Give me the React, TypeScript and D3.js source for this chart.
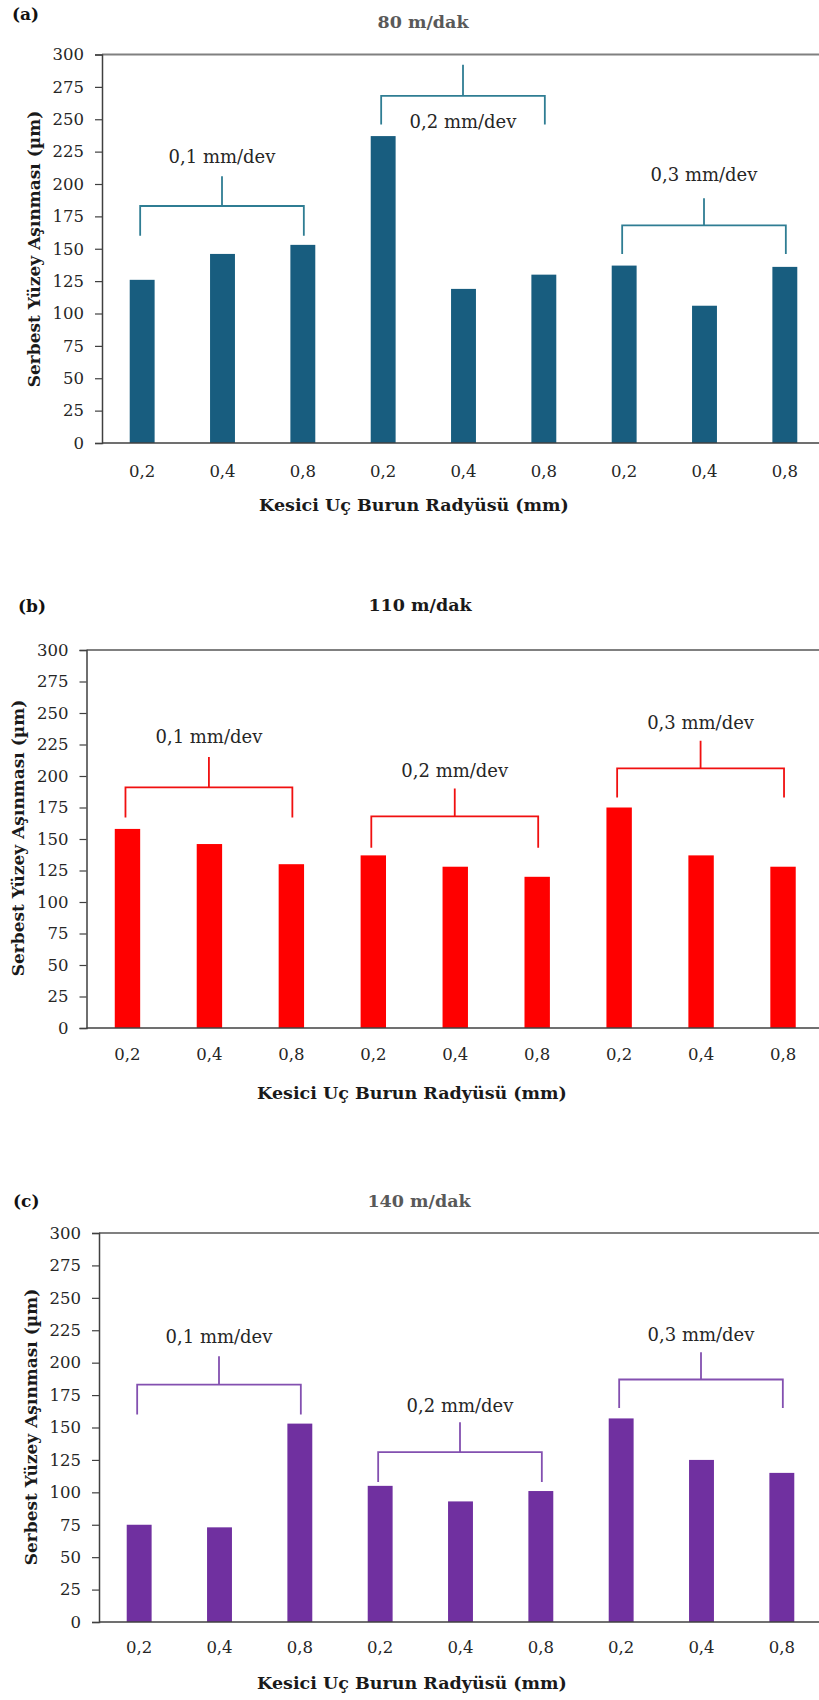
import { useEffect, useRef } from "react";
import * as d3 from "d3";

// nose radius categories (three feed groups of three)
const radiusLabels = ["0,2", "0,4", "0,8", "0,2", "0,4", "0,8", "0,2", "0,4", "0,8"];
const feedLabels = ["0,1 mm/dev", "0,2 mm/dev", "0,3 mm/dev"];
const yTicks = [0, 25, 50, 75, 100, 125, 150, 175, 200, 225, 250, 275, 300];

// flank wear values (µm) per cutting speed
const wear80 = [126, 146, 153, 237, 119, 130, 137, 106, 136];
const wear110 = [158, 146, 130, 137, 128, 120, 175, 137, 128];
const wear140 = [75, 73, 153, 105, 93, 101, 157, 125, 115];

// bracket levels in data units: [bar, leg end, stem top, label baseline]
const brackets80 = [
  [183, 160, 206, 216],
  [268, 246, 292, 243],
  [168, 146, 189, 202],
];
const brackets110 = [
  [191, 167, 215, 226],
  [168, 143, 190, 199],
  [206, 183, 228, 237],
];
const brackets140 = [
  [183, 160, 205, 215],
  [131, 108, 154, 162],
  [187, 165, 208, 217],
];

const FONT = "'DejaVu Serif', serif";

const panels = [
  {
    tag: "(a)", title: "80 m/dak", titleColor: "#595959",
    values: wear80, brackets: brackets80,
    barColor: "#185d7f", bracketColor: "#2f7d93",
    left: 102, top: 54.5, bottom: 443, right: 825,
    tagX: 12, tagY: 20, titleX: 423, titleY: 28,
    tickY: 477, xTitleX: 414, xTitleY: 511, yTitleX: 34, yTitleY: 249,
  },
  {
    tag: "(b)", title: "110 m/dak", titleColor: "#1a1a1a",
    values: wear110, brackets: brackets110,
    barColor: "#ff0000", bracketColor: "#f01010",
    left: 86.5, top: 650, bottom: 1028, right: 824,
    tagX: 18, tagY: 612, titleX: 420, titleY: 611,
    tickY: 1060, xTitleX: 412, xTitleY: 1099, yTitleX: 18, yTitleY: 838,
  },
  {
    tag: "(c)", title: "140 m/dak", titleColor: "#595959",
    values: wear140, brackets: brackets140,
    barColor: "#7030a0", bracketColor: "#8350b0",
    left: 99, top: 1233, bottom: 1622, right: 822,
    tagX: 13, tagY: 1207, titleX: 419, titleY: 1207,
    tickY: 1653, xTitleX: 412, xTitleY: 1689, yTitleX: 31, yTitleY: 1427,
  },
];

const App = () => {
  const svgRef = useRef(null);

  useEffect(() => {
    const svgEl = d3.select(svgRef.current);
    svgEl.selectAll("*").remove();

    panels.forEach((p) => {
      const g = svgEl.append("g");
      const idx = radiusLabels.map((_, i) => i);
      const x = d3
        .scaleBand()
        .domain(idx)
        .range([p.left, p.right])
        .paddingInner(0.69)
        .paddingOuter(0.345);
      const y = d3.scaleLinear().domain([0, 300]).range([p.bottom, p.top]);

      // top border
      g.append("line")
        .attr("x1", p.left).attr("x2", 819)
        .attr("y1", y(300)).attr("y2", y(300))
        .attr("stroke", "#808080").attr("stroke-width", 2);

      // bars
      g.selectAll(".bar")
        .data(p.values)
        .enter()
        .append("rect")
        .attr("x", (d, i) => x(i))
        .attr("y", (d) => y(d))
        .attr("width", x.bandwidth())
        .attr("height", (d) => y(0) - y(d))
        .attr("fill", p.barColor);

      // y axis
      const yAxis = d3.axisLeft(y).tickValues(yTicks).tickSize(7).tickPadding(11);
      const yg = g.append("g").attr("transform", `translate(${p.left},0)`).call(yAxis);
      yg.select(".domain").attr("stroke", "#404040").attr("stroke-width", 1.5);
      yg.selectAll("line").attr("stroke", "#404040").attr("stroke-width", 1.2);
      yg.selectAll("text")
        .attr("font-family", FONT).attr("font-size", 16.5).attr("fill", "#262626");

      // x axis
      const xAxis = d3
        .axisBottom(x)
        .tickSize(0)
        .tickPadding(0)
        .tickFormat((i) => radiusLabels[i]);
      const xg = g.append("g").attr("transform", `translate(0,${p.bottom})`).call(xAxis);
      xg.select(".domain").attr("d", `M${p.left},0H819`)
        .attr("stroke", "#404040").attr("stroke-width", 1.5);
      xg.selectAll("text")
        .attr("y", p.tickY - p.bottom).attr("dy", 0)
        .attr("font-family", FONT).attr("font-size", 16.5).attr("fill", "#262626");

      // feed brackets
      p.brackets.forEach(([bar, leg, stem, lab], k) => {
        const x1 = x(k * 3) + x.bandwidth() / 2 - 2;
        const x2 = x(k * 3 + 2) + x.bandwidth() / 2 + 1;
        const xm = (x1 + x2) / 2;
        const path = d3.path();
        path.moveTo(x1, y(leg));
        path.lineTo(x1, y(bar));
        path.lineTo(x2, y(bar));
        path.lineTo(x2, y(leg));
        path.moveTo(xm, y(bar));
        path.lineTo(xm, y(stem));
        g.append("path")
          .attr("d", path.toString())
          .attr("fill", "none")
          .attr("stroke", p.bracketColor)
          .attr("stroke-width", 1.8);
        g.append("text")
          .attr("x", xm).attr("y", y(lab))
          .attr("text-anchor", "middle")
          .attr("font-family", FONT).attr("font-size", 18)
          .attr("fill", "#262626")
          .text(feedLabels[k]);
      });

      // titles
      g.append("text")
        .attr("x", p.tagX).attr("y", p.tagY)
        .attr("font-family", FONT).attr("font-weight", "bold").attr("font-size", 17)
        .attr("fill", "#111").text(p.tag);
      g.append("text")
        .attr("x", p.titleX).attr("y", p.titleY).attr("text-anchor", "middle")
        .attr("font-family", FONT).attr("font-weight", "bold").attr("font-size", 17.5)
        .attr("fill", p.titleColor).text(p.title);
      g.append("text")
        .attr("x", p.xTitleX).attr("y", p.xTitleY).attr("text-anchor", "middle")
        .attr("font-family", FONT).attr("font-weight", "bold").attr("font-size", 17.5)
        .attr("fill", "#1a1a1a").text("Kesici Uç Burun Radyüsü (mm)");
      g.append("text")
        .attr("transform", `translate(${p.yTitleX + 6},${p.yTitleY}) rotate(-90)`)
        .attr("text-anchor", "middle")
        .attr("font-family", FONT).attr("font-weight", "bold").attr("font-size", 17)
        .attr("fill", "#1a1a1a").text("Serbest Yüzey Aşınması (µm)");
    });
  }, []);

  return (
    <svg
      ref={svgRef}
      width={819}
      height={1700}
      style={{ position: "absolute", left: 0, top: 0, background: "#fff" }}
    />
  );
};

export default App;
